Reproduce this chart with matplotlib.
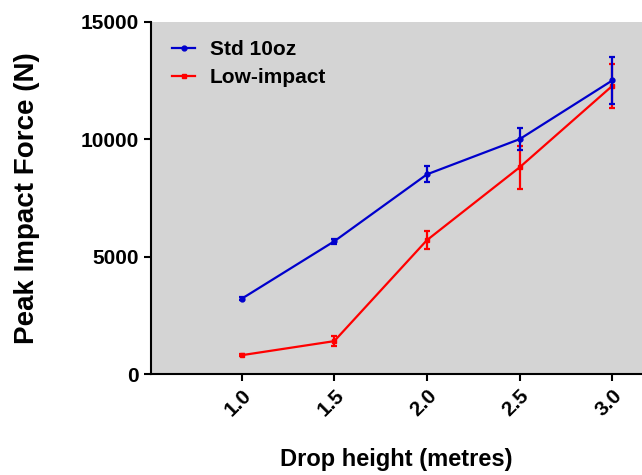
import matplotlib
matplotlib.use("Agg")
import matplotlib.pyplot as plt

# values
heights = [1.0, 1.5, 2.0, 2.5, 3.0]
std_force = [3200, 5650, 8500, 10000, 12500]
std_err = [60, 100, 340, 470, 1000]
low_force = [800, 1400, 5700, 8800, 12270]
low_err = [50, 225, 390, 920, 930]

plt.rcParams["font.family"] = ["Liberation Sans", "DejaVu Sans"]
plt.rcParams["font.weight"] = "bold"

fig = plt.figure(figsize=(6.42, 4.75), dpi=100)
ax = fig.add_axes([0.2347, 0.2126, 0.7653, 0.7417])
ax.set_facecolor("#d4d4d4")

low = ax.errorbar(heights, low_force, yerr=low_err, color="#ff0000", marker="s",
                  markersize=3.5, linewidth=1.6, elinewidth=1.6, capsize=2.5,
                  capthick=1.6, zorder=3)
std = ax.errorbar(heights, std_force, yerr=std_err, color="#0000cc", marker="o",
                  markersize=3.5, linewidth=1.6, elinewidth=1.6, capsize=2.5,
                  capthick=1.6, zorder=4)

ax.set_xlim(0.51, 3.16)
ax.set_ylim(0, 15000)
ax.set_xticks(heights)
ax.set_xticklabels([f"{h:.1f}" for h in heights], rotation=45, ha="right",
                   rotation_mode="anchor")
ax.set_yticks([0, 5000, 10000, 15000])
ax.tick_params(labelsize=15, width=1.5, length=5, direction="out")
for lab in ax.get_xticklabels() + ax.get_yticklabels():
    lab.set_fontweight("bold")

for s in ["top", "right"]:
    ax.spines[s].set_visible(False)
for s in ["left", "bottom"]:
    ax.spines[s].set_linewidth(1.5)

ax.set_ylabel("Peak Impact Force (N)", fontsize=20, fontweight="bold", va="center")
ax.yaxis.set_label_coords(-0.252, 0.5)
ax.set_xlabel("Drop height (metres)", fontsize=17, fontweight="bold", va="center")
ax.xaxis.set_label_coords(0.5, -0.244)

ax.legend([std.lines[0], low.lines[0]], ["Std 10oz", "Low-impact"],
          loc="upper left", bbox_to_anchor=(0.023, 0.978), frameon=False,
          borderpad=0, handlelength=1.1, handletextpad=0.7, labelspacing=0.44,
          prop={"size": 15, "weight": "bold"})

fig.savefig("out.png", dpi=100)
